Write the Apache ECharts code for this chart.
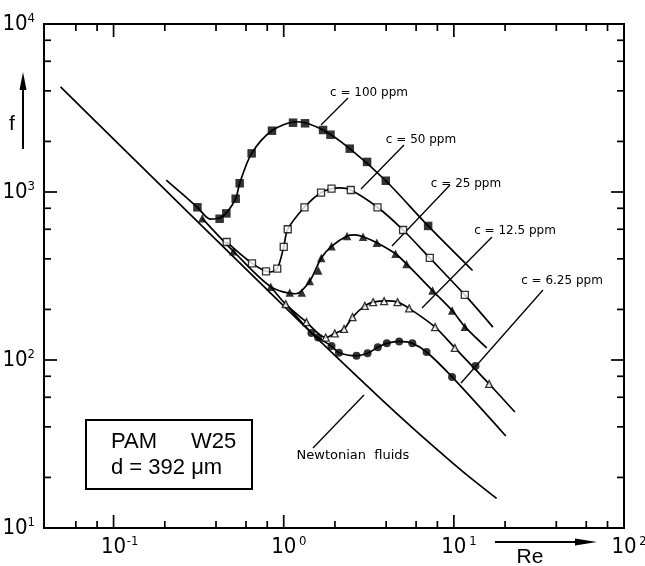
<!DOCTYPE html>
<html>
<head>
<meta charset="utf-8">
<title>PAM W25 - f vs Re</title>
<script src="https://cdn.jsdelivr.net/npm/echarts@6/dist/echarts.min.js"></script>
<style>
  html, body { margin: 0; padding: 0; background: #fff; }
  #chart { width: 645px; height: 566px; }
</style>
</head>
<body>
<div id="chart"></div>
<script>
// [Re, f]
var newtonian = [[0.0488, 4224], [0.116, 1779], [0.861, 243], [1.915, 111], [3.67, 59.6], [5.76, 39.2], [8.27, 28.4],
    [11.34, 21.6], [17.83, 15.0]];

// c = 100 ppm, filled squares
var pts100 = [[0.311, 811], [0.420, 693], [0.460, 746], [0.522, 912], [0.551, 1127], [0.648, 1698], [0.853, 2317],
    [1.134, 2585], [1.335, 2564], [1.703, 2339], [1.883, 2193], [2.445, 1811], [3.09, 1510], [3.98, 1167], [7.06, 628]];
var line100 = [[0.204, 1178], [0.311, 811], [0.37, 690], [0.420, 700], [0.460, 750], [0.522, 912], [0.551, 1127],
    [0.648, 1698], [0.853, 2317], [1.2, 2620], [1.703, 2339], [2.445, 1811], [3.98, 1167], [7.06, 628], [12.88, 341]];

// c = 50 ppm, open squares
var pts50 = [[0.462, 504], [0.651, 376], [0.787, 337], [0.916, 350], [1.0, 472], [1.056, 600], [1.324, 811],
    [1.657, 991], [1.909, 1046], [2.478, 1028], [3.558, 811], [5.03, 594], [7.22, 405], [11.6, 244]];
var line50 = [[0.462, 504], [0.651, 376], [0.83, 334], [0.916, 350], [1.0, 472], [1.056, 600], [1.324, 811],
    [1.657, 991], [2.135, 1057], [2.478, 1028], [3.558, 811], [5.03, 594], [7.22, 405], [11.6, 244], [16.96, 157]];

// c = 25 ppm, filled triangles
var pts25 = [[0.332, 697], [0.506, 444], [0.839, 273], [1.085, 252], [1.276, 252], [1.422, 295], [1.596, 341],
    [1.662, 405], [1.909, 475], [2.357, 547], [2.927, 542], [3.524, 499], [4.54, 429], [5.27, 373], [7.49, 259],
    [9.77, 197], [11.6, 158]];
var line25 = [[0.332, 697], [0.506, 444], [0.839, 273], [1.18, 248], [1.422, 295], [1.662, 405], [1.909, 475],
    [2.357, 547], [2.616, 555], [2.927, 542], [3.524, 499], [4.54, 429], [5.27, 373], [7.49, 259], [9.77, 197],
    [11.6, 158], [15.6, 118]];

// c = 12.5 ppm, open triangles
var pts12 = [[1.027, 215], [1.36, 168], [1.766, 136], [1.995, 144], [2.263, 153], [2.536, 180], [2.996, 210],
    [3.352, 221], [3.89, 224], [4.666, 221], [5.46, 203], [7.76, 157], [10.14, 118], [16.13, 72]];
var line12 = [[0.839, 273], [1.027, 215], [1.36, 168], [1.766, 136], [1.995, 144], [2.263, 153], [2.536, 180],
    [2.996, 210], [3.352, 221], [4.08, 225], [4.666, 221], [5.46, 203], [7.76, 157], [10.14, 118], [16.13, 72],
    [22.85, 49]];

// c = 6.25 ppm, filled circles
var pts6 = [[1.455, 145], [1.592, 136], [1.909, 121], [2.112, 110.5], [2.677, 106], [3.111, 109.6], [3.572, 119],
    [4.035, 125.6], [4.77, 129], [5.70, 125.6], [6.91, 111.6], [9.76, 79.3], [13.4, 92]];
var line6 = [[1.027, 215], [1.455, 145], [1.592, 136], [1.909, 121], [2.112, 110.5], [2.677, 106], [3.111, 109.6],
    [3.572, 119], [4.035, 125.6], [4.77, 129], [5.70, 125.6], [6.91, 111.6], [9.76, 79.3], [20.2, 35.3]];

// axis ticks
var xMajor = [0.1, 1, 10, 100];
var xMinor = [0.06, 0.08, 0.2, 0.4, 0.6, 0.8, 2, 4, 6, 8, 20, 40, 60, 80];
var yMajor = [10, 100, 1000, 10000];
var yMinor = [20, 40, 60, 80, 200, 400, 600, 800, 2000, 4000, 6000, 8000];

var X_MIN = 0.039, X_MAX = 100, Y_MIN = 10, Y_MAX = 10000;
var numFont = "'Liberation Sans Narrow', 'DejaVu Sans Condensed', 'Liberation Sans', sans-serif";
var smallFont = "'DejaVu Sans', sans-serif";

function isPow10(v) {
    var l = Math.log10(v);
    return Math.abs(l - Math.round(l)) < 1e-6;
}

// ticks inside the frame, on both opposite sides
function tickSeries(values, dim, len) {
    return {
        type: 'custom',
        silent: true,
        z: 5,
        data: values.map(function (v) { return dim === 'x' ? [v, Y_MIN] : [X_MIN, v]; }),
        renderItem: function (params, api) {
            var v = api.value(dim === 'x' ? 0 : 1);
            var a, b, sa, sb;
            if (dim === 'x') {
                a = api.coord([v, Y_MIN]); b = api.coord([v, Y_MAX]);
                sa = {x1: a[0], y1: a[1], x2: a[0], y2: a[1] - len};
                sb = {x1: b[0], y1: b[1], x2: b[0], y2: b[1] + len};
            } else {
                a = api.coord([X_MIN, v]); b = api.coord([X_MAX, v]);
                sa = {x1: a[0], y1: a[1], x2: a[0] + len, y2: a[1]};
                sb = {x1: b[0], y1: b[1], x2: b[0] - len, y2: b[1]};
            }
            var st = {stroke: '#000', lineWidth: 1.7};
            return {type: 'group', children: [
                {type: 'line', shape: sa, style: st},
                {type: 'line', shape: sb, style: st}
            ]};
        }
    };
}

function curve(data) {
    return {
        type: 'line', data: data, showSymbol: false, smooth: 0.3, silent: true, z: 2,
        lineStyle: {color: '#000', width: 1.7}
    };
}

function points(data, symbol, size, open) {
    return {
        type: 'scatter', data: data, symbol: symbol, symbolSize: size, silent: true, z: 3,
        itemStyle: open ? {color: '#fff', borderColor: '#000', borderWidth: 1.3} : {color: '#000'}
    };
}

function label(text, x, y, font) {
    return {type: 'text', silent: true, style: {text: text, x: x, y: y, font: font, fill: '#000',
        textAlign: 'center', textVerticalAlign: 'middle'}};
}

function seg(x1, y1, x2, y2, w) {
    return {type: 'line', silent: true, shape: {x1: x1, y1: y1, x2: x2, y2: y2},
        style: {stroke: '#000', lineWidth: w || 1.3}};
}

var chart = echarts.init(document.getElementById('chart'));
var option = {
    animation: false,
    backgroundColor: '#fff',
    grid: {left: 44, right: 21, top: 24, bottom: 38, containLabel: false, outerBoundsMode: 'none',
        show: true, borderColor: '#000', borderWidth: 2},
    xAxis: {
        type: 'log', logBase: 10, min: X_MIN, max: X_MAX,
        axisLine: {show: false}, axisTick: {show: false}, splitLine: {show: false},
        axisLabel: {
            margin: 7,
            hideOverlap: false,
            formatter: function (v) {
                if (!isPow10(v)) return '';
                return '{sp|}{b|10}{s|' + Math.round(Math.log10(v)) + '}';
            },
            rich: {
                b: {fontSize: 22, fontFamily: numFont, color: '#000', lineHeight: 24},
                s: {fontSize: 13, fontFamily: numFont, color: '#000', lineHeight: 13, verticalAlign: 'top', width: 13, align: 'left'},
                sp: {width: 13}
            }
        }
    },
    yAxis: {
        type: 'log', logBase: 10, min: Y_MIN, max: Y_MAX,
        axisLine: {show: false}, axisTick: {show: false}, splitLine: {show: false},
        axisLabel: {
            margin: 9,
            hideOverlap: false,
            formatter: function (v) {
                if (!isPow10(v)) return '';
                return '{b|10}{s|' + Math.round(Math.log10(v)) + '}';
            },
            rich: {
                b: {fontSize: 22, fontFamily: numFont, color: '#000', lineHeight: 24},
                s: {fontSize: 13, fontFamily: numFont, color: '#000', lineHeight: 13, verticalAlign: 'top'}
            }
        }
    },
    series: [
        tickSeries(xMajor, 'x', 13),
        tickSeries(xMinor, 'x', 7),
        tickSeries(yMajor, 'y', 13),
        tickSeries(yMinor, 'y', 7),
        curve(newtonian),
        curve(line100),
        curve(line50),
        curve(line25),
        curve(line12),
        curve(line6),
        points(pts100, 'rect', 8.5, false),
        points(pts50, 'rect', 7, true),
        points(pts25, 'triangle', 8.5, false),
        points(pts12, 'triangle', 7, true),
        points(pts6, 'circle', 8, false)
    ],
    graphic: [
        // axis titles with arrows
        label('f', 12, 124, "21px 'Liberation Sans', sans-serif"),
        seg(23, 149, 23, 86, 2),
        {type: 'polygon', silent: true, shape: {points: [[23, 72], [19.5, 90], [26.5, 90]]}, style: {fill: '#000'}},
        label('Re', 530, 557, "21px 'Liberation Sans', sans-serif"),
        seg(495, 542, 580, 542, 2),
        {type: 'polygon', silent: true, shape: {points: [[597, 542], [575, 538.5], [575, 545.5]]}, style: {fill: '#000'}},

        // curve annotations
        label('c = 100 ppm', 369, 93, "12px " + smallFont),
        seg(321, 125, 348, 98),
        label('c = 50 ppm', 421, 140, "12px " + smallFont),
        seg(361, 189, 404, 145),
        label('c = 25 ppm', 466, 184, "12px " + smallFont),
        seg(392, 246, 450, 185),
        label('c = 12.5 ppm', 515, 231, "12px " + smallFont),
        seg(422, 308, 492, 237),
        label('c = 6.25 ppm', 562, 281, "12px " + smallFont),
        seg(461, 383, 543, 290),
        label('Newtonian  fluids', 353, 456, "13px " + smallFont),
        seg(313, 448, 364, 395),

        // legend box
        {type: 'rect', silent: true, shape: {x: 86, y: 420, width: 166, height: 69},
            style: {fill: '#fff', stroke: '#000', lineWidth: 2}},
        {type: 'text', silent: true, style: {text: 'PAM', x: 111, y: 442, font: "22px 'Liberation Sans', sans-serif",
            fill: '#000', textAlign: 'left', textVerticalAlign: 'middle'}},
        {type: 'text', silent: true, style: {text: 'W25', x: 191, y: 442, font: "22px 'Liberation Sans', sans-serif",
            fill: '#000', textAlign: 'left', textVerticalAlign: 'middle'}},
        {type: 'text', silent: true, style: {text: 'd = 392 μm', x: 111, y: 468, font: "22px 'Liberation Sans', sans-serif",
            fill: '#000', textAlign: 'left', textVerticalAlign: 'middle'}}
    ]
};
chart.setOption(option);
window.onresize = function () {
    chart.resize();
};
</script>
</body>
</html>
